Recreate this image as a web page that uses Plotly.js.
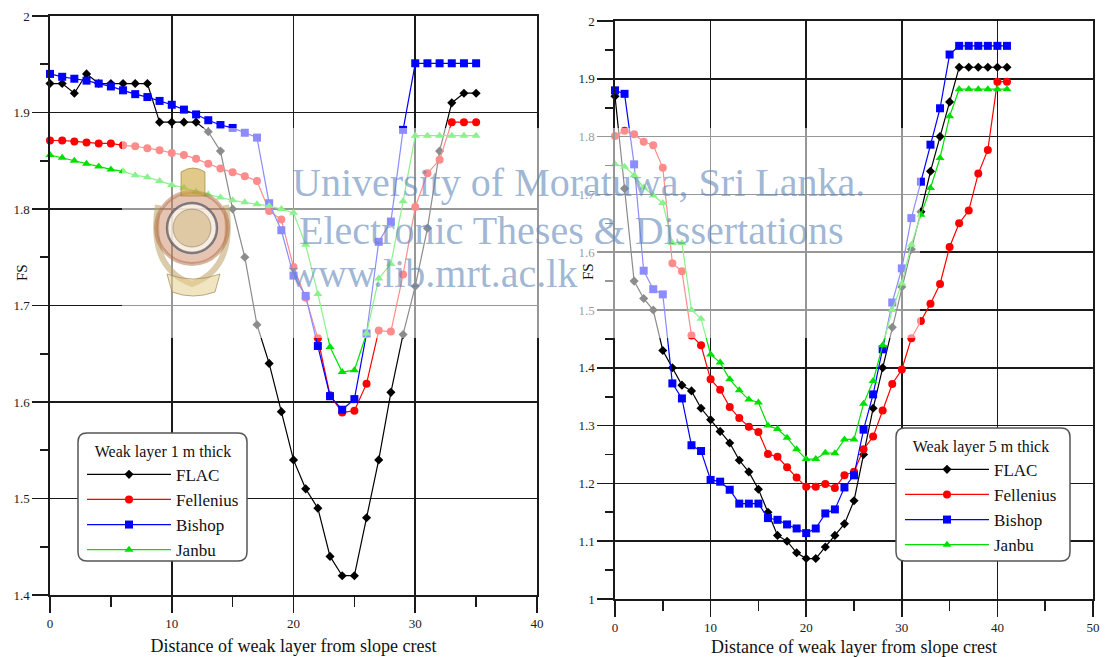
<!DOCTYPE html>
<html>
<head>
<meta charset="utf-8">
<script src="https://cdn.plot.ly/plotly-3.0.1.min.js"></script>
<style>html,body{margin:0;padding:0;background:#fff;}#chart{width:1105px;height:657px;}</style>
</head>
<body>
<div id="chart"></div>
<script>
// ---------- Data ----------
const seriesNames = ["FLAC", "Fellenius", "Bishop", "Janbu"];

// Weak layer 1 m thick
const distance1 = [0,1,2,3,4,5,6,7,8,9,10,11,12,13,14,15,16,17,18,19,20,21,22,23,24,25,26,27,28,29,30,31,32,33,34,35];
const flac1 = [1.93,1.93,1.92,1.94,1.93,1.93,1.93,1.93,1.93,1.89,1.89,1.89,1.89,1.88,1.86,1.80,1.75,1.68,1.64,1.59,1.54,1.51,1.49,1.44,1.42,1.42,1.48,1.54,1.61,1.67,1.72,1.78,1.86,1.91,1.92,1.92];
const fellenius1 = [1.871,1.871,1.870,1.869,1.868,1.868,1.866,1.865,1.863,1.861,1.858,1.856,1.852,1.847,1.842,1.838,1.834,1.829,1.798,1.789,1.740,1.708,1.666,1.607,1.589,1.591,1.619,1.674,1.673,1.732,1.802,1.837,1.851,1.890,1.890,1.890];
const bishop1 = [1.940,1.937,1.935,1.933,1.930,1.927,1.923,1.919,1.916,1.912,1.908,1.903,1.898,1.892,1.887,1.884,1.879,1.874,1.806,1.778,1.731,1.710,1.658,1.606,1.592,1.603,1.671,1.766,1.787,1.882,1.951,1.951,1.951,1.951,1.951,1.951];
const janbu1 = [1.856,1.853,1.850,1.847,1.844,1.841,1.839,1.835,1.833,1.829,1.825,1.822,1.818,1.815,1.812,1.809,1.807,1.805,1.803,1.800,1.796,1.763,1.712,1.657,1.631,1.633,1.671,1.728,1.743,1.808,1.876,1.876,1.876,1.876,1.876,1.876];

// Weak layer 5 m thick
const distance5 = [0,1,2,3,4,5,6,7,8,9,10,11,12,13,14,15,16,17,18,19,20,21,22,23,24,25,26,27,28,29,30,31,32,33,34,35,36,37,38,39,40,41];
const flac5 = [1.87,1.71,1.55,1.52,1.50,1.43,1.40,1.37,1.36,1.33,1.31,1.29,1.27,1.24,1.22,1.19,1.15,1.11,1.10,1.08,1.07,1.07,1.09,1.11,1.13,1.17,1.25,1.33,1.40,1.47,1.54,1.605,1.67,1.74,1.80,1.86,1.92,1.92,1.92,1.92,1.92,1.92];
const fellenius5 = [1.801,1.810,1.804,1.791,1.785,1.746,1.581,1.567,1.456,1.439,1.380,1.362,1.332,1.313,1.298,1.289,1.251,1.246,1.228,1.210,1.194,1.194,1.199,1.192,1.214,1.220,1.259,1.281,1.326,1.372,1.397,1.451,1.481,1.511,1.545,1.609,1.650,1.672,1.736,1.777,1.895,1.895];
const bishop5 = [1.880,1.874,1.752,1.568,1.536,1.527,1.373,1.347,1.266,1.256,1.206,1.203,1.189,1.165,1.165,1.165,1.140,1.137,1.129,1.122,1.114,1.122,1.148,1.155,1.193,1.214,1.293,1.354,1.432,1.513,1.572,1.659,1.722,1.786,1.849,1.942,1.957,1.957,1.957,1.957,1.957,1.957];
const janbu5 = [1.752,1.748,1.733,1.712,1.698,1.685,1.616,1.616,1.500,1.485,1.423,1.409,1.380,1.361,1.345,1.340,1.300,1.294,1.279,1.259,1.242,1.242,1.253,1.252,1.276,1.276,1.338,1.377,1.439,1.500,1.546,1.613,1.665,1.711,1.763,1.835,1.882,1.882,1.882,1.882,1.882,1.882];

const legendTitles = ["Weak layer 1 m thick", "Weak layer 5 m thick"];
const xTitle = "Distance of weak layer from slope crest";
const yTitle = "FS";
const watermarkLines = ["University of Moratuwa, Sri Lanka.", "Electronic Theses & Dissertations", "www.lib.mrt.ac.lk"];

// ---------- Styling ----------
const W = 1105, H = 657;
const px = x => x / W;
const py = y => 1 - y / H;
const FONT = "Liberation Serif, Times New Roman, serif";
const INK = "#1a1a1a";

const styles = [
  {color: "#000000", symbol: "diamond", size: 7},
  {color: "#ff0000", symbol: "circle", size: 8},
  {color: "#0000ff", symbol: "square", size: 8},
  {color: "#00e000", symbol: "triangle-up", size: 8}
];

function mkTrace(x, y, i, xa, ya, leg) {
  return {
    x: x, y: y, type: "scatter", mode: "lines+markers", name: seriesNames[i],
    xaxis: xa, yaxis: ya, legend: leg, cliponaxis: false,
    line: {color: styles[i].color, width: 1.2},
    marker: {color: styles[i].color, symbol: styles[i].symbol, size: styles[i].size}
  };
}

const set1 = [flac1, fellenius1, bishop1, janbu1];
const set5 = [flac5, fellenius5, bishop5, janbu5];
const traces = [];
set1.forEach((ys, i) => traces.push(mkTrace(distance1, ys, i, "x", "y", "legend")));
set5.forEach((ys, i) => traces.push(mkTrace(distance5, ys, i, "x2", "y2", "legend2")));

function xAxis(domain, range, anchor) {
  return {
    domain: domain, range: range, anchor: anchor, dtick: 10, tick0: 0,
    showgrid: true, gridcolor: INK, gridwidth: 1.6, zeroline: false,
    showline: true, linecolor: INK, linewidth: 1.6, mirror: true,
    ticks: "outside", ticklen: 16, tickwidth: 1.6, tickcolor: INK,
    minor: {dtick: 5, tick0: 0, ticks: "outside", ticklen: 10, tickwidth: 1.6, tickcolor: INK, showgrid: false},
    tickfont: {family: FONT, size: 13, color: INK},
    title: {text: xTitle, font: {family: FONT, size: 18, color: "#111"}, standoff: 9},
    automargin: false, fixedrange: true
  };
}
function yAxis(domain, range, anchor) {
  return {
    domain: domain, range: range, anchor: anchor, dtick: 0.1, tick0: 0,
    showgrid: true, gridcolor: INK, gridwidth: 1.6, zeroline: false,
    showline: true, linecolor: INK, linewidth: 1.6, mirror: true,
    ticks: "outside", ticklen: 16, tickwidth: 1.6, tickcolor: INK,
    minor: {dtick: 0.05, tick0: 0, ticks: "outside", ticklen: 8, tickwidth: 1.6, tickcolor: INK, showgrid: false},
    tickfont: {family: FONT, size: 13, color: INK},
    automargin: false, fixedrange: true
  };
}

function roundRect(x0, y0, x1, y1, r) {
  const X = v => px(v).toFixed(5), Y = v => py(v).toFixed(5);
  return "M" + X(x0 + r) + "," + Y(y0) + " L" + X(x1 - r) + "," + Y(y0) +
    " Q" + X(x1) + "," + Y(y0) + " " + X(x1) + "," + Y(y0 + r) +
    " L" + X(x1) + "," + Y(y1 - r) +
    " Q" + X(x1) + "," + Y(y1) + " " + X(x1 - r) + "," + Y(y1) +
    " L" + X(x0 + r) + "," + Y(y1) +
    " Q" + X(x0) + "," + Y(y1) + " " + X(x0) + "," + Y(y1 - r) +
    " L" + X(x0) + "," + Y(y0 + r) +
    " Q" + X(x0) + "," + Y(y0) + " " + X(x0 + r) + "," + Y(y0) + " Z";
}
function circle(cx, cy, r, fill, line, lw) {
  return {type: "circle", xref: "paper", yref: "paper", layer: "above",
    x0: px(cx - r), x1: px(cx + r), y0: py(cy + r), y1: py(cy - r),
    fillcolor: fill, line: {color: line, width: lw}};
}

const shapes = [
  // watermark veil
  {type: "rect", xref: "paper", yref: "paper", layer: "above", x0: px(122), x1: px(920), y0: py(338), y1: py(128),
   fillcolor: "rgba(255,255,255,0.55)", line: {width: 0}},
  // logo (approximate)
  {type: "path", xref: "paper", yref: "paper", layer: "above",
   path: "M" + px(158) + "," + py(205) + " Q" + px(148) + "," + py(268) + " " + px(192) + "," + py(284) +
         " Q" + px(236) + "," + py(268) + " " + px(226) + "," + py(205),
   line: {color: "rgba(190,160,100,0.55)", width: 6}},
  circle(192, 228, 36, "rgba(200,125,85,0.45)", "rgba(175,110,70,0.5)", 4, "dot"),
  circle(192, 228, 25, "rgba(255,250,240,0.75)", "rgba(90,90,100,0.75)", 2.5),
  circle(192, 228, 19, "rgba(190,160,90,0.45)", "rgba(120,110,90,0.5)", 1),
  {type: "path", xref: "paper", yref: "paper", layer: "above",
   path: "M" + px(181) + "," + py(196) + " L" + px(181) + "," + py(172) + " Q" + px(193) + "," + py(164) + " " + px(205) + "," + py(172) +
         " L" + px(205) + "," + py(196) + " Z",
   fillcolor: "rgba(205,165,60,0.6)", line: {color: "rgba(150,120,50,0.6)", width: 1}},
  {type: "path", xref: "paper", yref: "paper", layer: "above",
   path: "M" + px(167) + "," + py(274) + " Q" + px(193) + "," + py(284) + " " + px(220) + "," + py(274) +
         " L" + px(215) + "," + py(292) + " Q" + px(193) + "," + py(300) + " " + px(172) + "," + py(292) + " Z",
   fillcolor: "rgba(230,205,140,0.55)", line: {color: "rgba(150,120,60,0.6)", width: 1}},
  // legend boxes
  {type: "path", xref: "paper", yref: "paper", layer: "above", path: roundRect(78, 433, 247, 561, 9),
   fillcolor: "#ffffff", line: {color: "#555", width: 1.5}},
  {type: "path", xref: "paper", yref: "paper", layer: "above", path: roundRect(896, 428, 1070, 561, 9),
   fillcolor: "#ffffff", line: {color: "#555", width: 1.5}}
];

const annotations = [
  {text: watermarkLines[0], x: px(578), y: py(183)},
  {text: watermarkLines[1], x: px(571), y: py(230)},
  {text: watermarkLines[2], x: px(433), y: py(273)}
].map(a => Object.assign(a, {xref: "paper", yref: "paper", showarrow: false, xanchor: "center", yanchor: "middle",
  font: {family: FONT, size: 40, color: "rgba(95,135,185,0.62)"}}));

// y-axis titles ("FS"), placed where the reference shows them
annotations.push(
  {text: yTitle, x: px(22), y: py(273), xref: "paper", yref: "paper", showarrow: false, textangle: -90,
   xanchor: "center", yanchor: "middle", font: {family: FONT, size: 15, color: "#111"}},
  {text: yTitle, x: px(588), y: py(272), xref: "paper", yref: "paper", showarrow: false, textangle: -90,
   xanchor: "center", yanchor: "middle", font: {family: FONT, size: 15, color: "#111"}}
);

function legendCfg(i, x, y) {
  return {
    x: x, y: y, xanchor: "left", yanchor: "top", xref: "paper", yref: "paper",
    bgcolor: "rgba(0,0,0,0)", borderwidth: 0, itemwidth: 84, tracegroupgap: 0,
    title: {text: legendTitles[i], side: "top center", font: {family: FONT, size: 16, color: "#111"}},
    font: {family: FONT, size: 17, color: "#111"}
  };
}

const layout = {
  width: W, height: H, margin: {l: 0, r: 0, t: 0, b: 0},
  paper_bgcolor: "#fff", plot_bgcolor: "#fff", showlegend: true,
  xaxis: xAxis([px(50), px(537)], [0, 40], "y"),
  yaxis: yAxis([py(595), py(16)], [1.4, 2], "x"),
  xaxis2: xAxis([px(615), px(1093)], [0, 50], "y2"),
  yaxis2: yAxis([py(599), py(21)], [1, 2], "x2"),
  legend: legendCfg(0, px(82), py(436)),
  legend2: legendCfg(1, px(900), py(431)),
  shapes: shapes,
  annotations: annotations
};

Plotly.newPlot("chart", traces, layout, {displayModeBar: false, staticPlot: true});
</script>
</body>
</html>
